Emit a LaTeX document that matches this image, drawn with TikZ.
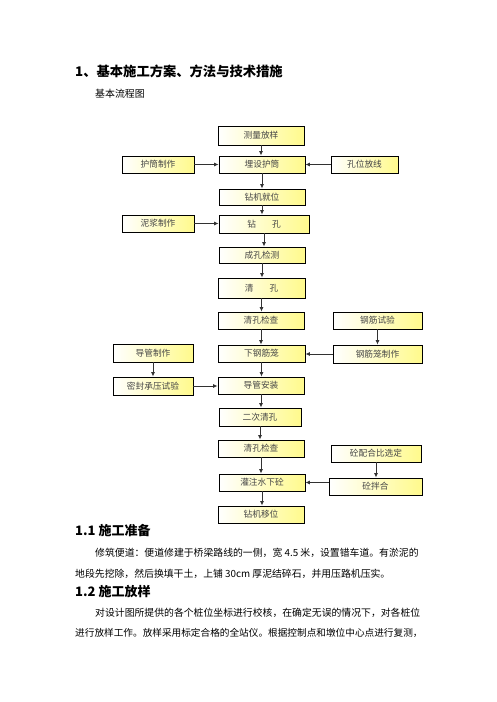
\documentclass[tikz,border=0pt]{standalone}
\usepackage{fontspec}
\setmainfont{Noto Sans CJK SC}
\usetikzlibrary{arrows.meta}
\definecolor{boxyellow}{RGB}{255,250,140}
\definecolor{txtgray}{RGB}{70,70,70}
\definecolor{arrgray}{RGB}{50,50,50}
\tikzset{
  box/.style={draw=black, line width=0.8pt, left color=white, right color=boxyellow,
    inner sep=0pt, font=\fontsize{8.7}{10}\selectfont, text=txtgray},
  arr/.style={draw=arrgray, line width=0.9pt, -{Latex[length=4.5pt,width=4pt]}},
  txt/.style={anchor=west, inner sep=0pt},
}
\begin{document}
\begin{tikzpicture}[x=1pt,y=-1pt]
\path[fill=white] (0,0) rectangle (496,702);
\useasboundingbox (0,0) rectangle (496,702);

% headings and text
\node[txt, font=\fontsize{13.3}{15}\selectfont\bfseries] (t1) at (75,71.7) {1、基本施工方案、方法与技术措施};
\node[txt, font=\fontsize{9.9}{12}\selectfont] (t2) at (95,93.3) {基本流程图};

% boxes
\node[box, minimum width=86pt, minimum height=19pt] (m1) at (261,135.5) {测量放样};
\node[box, minimum width=72pt, minimum height=17pt] (hz) at (158,164.5) {护筒制作};
\node[box, minimum width=86pt, minimum height=17pt] (m2) at (262,164.5) {埋设护筒};
\node[box, minimum width=67pt, minimum height=17pt] (kw) at (364.5,164.5) {孔位放线};
\node[box, minimum width=86pt, minimum height=16pt] (m3) at (262,197) {钻机就位};
\node[box, minimum width=72pt, minimum height=17pt] (nj) at (158,223.5) {泥浆制作};
\node[box, minimum width=90pt, minimum height=18pt] (m4) at (264,224) {钻\hspace{16pt}孔};
\node[box, minimum width=86pt, minimum height=16pt] (m5) at (262,255) {成孔检测};
\node[box, minimum width=87pt, minimum height=20pt] (m6) at (261.5,288) {清\hspace{16pt}孔};
\node[box, minimum width=86pt, minimum height=17pt] (m7) at (261,320.5) {清孔检查};
\node[box, minimum width=89pt, minimum height=17pt] (gs) at (377.5,320.5) {钢筋试验};
\node[box, minimum width=80pt, minimum height=18pt] (dz) at (153,353) {导管制作};
\node[box, minimum width=87pt, minimum height=17pt] (m8) at (261.5,353.5) {下钢筋笼};
\node[box, minimum width=89pt, minimum height=18pt] (gl) at (377.5,354) {钢筋笼制作};
\node[box, minimum width=80pt, minimum height=18pt] (mf) at (153,386) {密封承压试验};
\node[box, minimum width=86pt, minimum height=17pt] (m9) at (261,385.5) {导管安装};
\node[box, minimum width=82pt, minimum height=18pt] (m10) at (260,417) {二次清孔};
\node[box, minimum width=86pt, minimum height=17pt] (m11) at (261,448.5) {清孔检查};
\node[box, minimum width=90pt, minimum height=17pt] (tp) at (376,453.5) {砼配合比选定};
\node[box, minimum width=86pt, minimum height=17pt] (m12) at (262,482.5) {灌注水下砼};
\node[box, minimum width=93pt, minimum height=17pt] (bh) at (375.5,486.5) {砼拌合};
\node[box, minimum width=86pt, minimum height=17pt] (m13) at (261,514.5) {钻机移位};

% vertical arrows (main column)
\foreach \a/\b in {m1/m2,m2/m3,m3/m4,m4/m5,m5/m6,m6/m7,m7/m8,m8/m9,m9/m10,m10/m11,m11/m12,m12/m13}
  \draw[arr] (\a.south) -- (\a.south |- \b.north);
% side vertical arrows
\draw[arr] (gs.south) -- (gs.south |- gl.north);
\draw[arr] (tp.south) -- (tp.south |- bh.north);
\draw[arr] (dz.south) -- (dz.south |- mf.north);
% horizontal arrows
\draw[arr] (hz.east) -- (hz.east -| m2.west);
\draw[arr] (kw.west) -- (kw.west -| m2.east);
\draw[arr] (nj.east) -- (nj.east -| m4.west);
\draw[arr] (gl.west) -- (gl.west -| m8.east);
\draw[arr] (mf.east) -- (mf.east -| m9.west);
\draw[arr] (bh.west |- m12.east) -- (m12.east);

% sections
\node[txt, font=\fontsize{13}{15}\selectfont\bfseries] (s1) at (75,531) {1.1 施工准备};
\node[txt, font=\fontsize{9.85}{12}\selectfont] (p1) at (95,553.3) {修筑便道：便道修建于桥梁路线的一侧，宽 4.5 米，设置错车道。有淤泥的};
\node[txt, font=\fontsize{9.85}{12}\selectfont] (p2) at (75,573.5) {地段先挖除，然后换填干土，上铺 30cm 厚泥结碎石，并用压路机压实。};
\node[txt, font=\fontsize{13}{15}\selectfont\bfseries] (s2) at (75,591.7) {1.2 施工放样};
\node[txt, font=\fontsize{9.85}{12}\selectfont] (p3) at (95,612.7) {对设计图所提供的各个桩位坐标进行校核，在确定无误的情况下，对各桩位};
\node[txt, font=\fontsize{9.65}{12}\selectfont] (p4) at (75,633.3) {进行放样工作。放样采用标定合格的全站仪。根据控制点和墩位中心点进行复测，};
\end{tikzpicture}
\end{document}
